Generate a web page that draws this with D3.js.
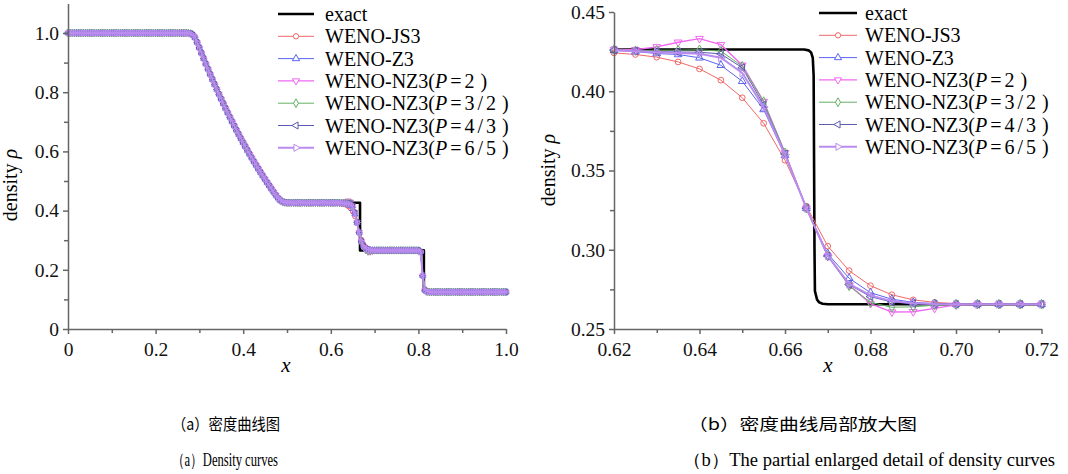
<!DOCTYPE html>
<html><head><meta charset="utf-8">
<script src="https://cdn.jsdelivr.net/npm/d3@7"></script>
<style>body{margin:0;background:#fff}svg{display:block}</style>
</head><body>
<svg id="c" width="1068" height="474"></svg>
<script>
// ---------------- DATA ----------------
const seriesNames = ["WENO-JS3", "WENO-Z3", "WENO-NZ3", "WENO-NZ3", "WENO-NZ3", "WENO-NZ3"];
const seriesP = [null, null, ["2"], ["3", "/", "2"], ["4", "/", "3"], ["6", "/", "5"]];
const seriesColors = ["#f06868", "#5a64f0", "#f068f0", "#64b064", "#5c5cb0", "#bb8cf0"];
const seriesWidths = [1, 1, 1.4, 1, 1, 2];
const seriesSymbols = ["circle", "triUp", "triDown", "diamond", "triLeft", "triRight"];

const leftXTicks = [0, 0.2, 0.4, 0.6, 0.8, 1.0];
const leftXMinor = [0.1, 0.3, 0.5, 0.7, 0.9];
const leftYTicks = [0, 0.2, 0.4, 0.6, 0.8, 1.0];
const leftYMinor = [0.1, 0.3, 0.5, 0.7, 0.9];
const rightXTicks = [0.62, 0.64, 0.66, 0.68, 0.70, 0.72];
const rightXMinor = [0.63, 0.65, 0.67, 0.69, 0.71];
const rightYTicks = [0.25, 0.30, 0.35, 0.40, 0.45];
const rightYMinor = [0.275, 0.325, 0.375, 0.425];

// exact solution (left chart), [x, rho]
const exactLeft = [
  [0, 1], [0.287, 1], [0.29, 0.9884], [0.295, 0.9691], [0.30, 0.9502], [0.305, 0.9316], [0.31, 0.9133],
  [0.315, 0.8952], [0.32, 0.8774], [0.325, 0.8600], [0.33, 0.8427], [0.335, 0.8258], [0.34, 0.8092],
  [0.345, 0.7928], [0.35, 0.7767], [0.355, 0.7608], [0.36, 0.7452], [0.365, 0.7299], [0.37, 0.7148],
  [0.375, 0.7000], [0.38, 0.6855], [0.385, 0.6711], [0.39, 0.6570], [0.395, 0.6431], [0.40, 0.6295],
  [0.405, 0.6161], [0.41, 0.6030], [0.415, 0.5900], [0.42, 0.5773], [0.425, 0.5648], [0.43, 0.5525],
  [0.435, 0.5404], [0.44, 0.5286], [0.445, 0.5170], [0.45, 0.5055], [0.455, 0.4943], [0.46, 0.4832],
  [0.465, 0.4724], [0.47, 0.4618], [0.475, 0.4513], [0.48, 0.4410], [0.485, 0.4310], [0.4873, 0.4263],
  [0.6667, 0.4263], [0.6667, 0.2656], [0.8125, 0.2656], [0.8125, 0.125], [1.0, 0.125]
];
// exact solution (zoomed chart), [x, rho]
const exactZoom = [
  [0.62, 0.4263], [0.6645, 0.4263], [0.6655, 0.4258], [0.6661, 0.4245], [0.6665, 0.4210], [0.6667, 0.4100],
  [0.6669, 0.3000], [0.6670, 0.2740], [0.6675, 0.2685], [0.6680, 0.2668], [0.6688, 0.2659], [0.6700, 0.2656],
  [0.72, 0.2656]
];

// numerical grid (dx = 0.005)
const gridX = d3.range(201).map(i => +(i * 0.005).toFixed(3));
// shared numerical values x = 0 ... 0.615
const numLeftPart = [
  1,1,1,1,1,1,1,1,1,1, 1,1,1,1,1,1,1,1,1,1, 1,1,1,1,1,1,1,1,1,1, 1,1,1,1,1,1,1,1,1,1,
  1,1,1,1,1,1,1,1,1,1, 1,1,1,1,1,
  0.9995, 0.998, 0.993, 0.984, 0.968, 0.950, 0.9316, 0.9133, 0.8952, 0.8774, 0.8600, 0.8427, 0.8258,
  0.8092, 0.7928, 0.7767, 0.7608, 0.7452, 0.7299, 0.7148, 0.7000, 0.6855, 0.6711, 0.6570, 0.6431,
  0.6295, 0.6161, 0.6030, 0.5900, 0.5773, 0.5648, 0.5525, 0.5404, 0.5286, 0.5170, 0.5055, 0.4943,
  0.4832, 0.4724, 0.4618, 0.4515, 0.4418, 0.4340, 0.4292, 0.4272, 0.4265,
  0.4263,0.4263,0.4263,0.4263,0.4263,0.4263,0.4263,0.4263,0.4263,0.4263,0.4263,0.4263,
  0.4263,0.4263,0.4263,0.4263,0.4263,0.4263,0.4263,0.4263,0.4263,0.4263,0.4263
];
// shared numerical values x = 0.725 ... 1.0
const numRightPart = [
  0.2656,0.2656,0.2656,0.2656,0.2656,0.2656,0.2656,0.2656,0.2656,0.2656,0.2656,0.2656,0.2656,0.2656,0.2656,0.2656,
  0.2600, 0.1800, 0.1310, 0.1256,
  0.125,0.125,0.125,0.125,0.125,0.125,0.125,0.125,0.125,0.125,0.125,0.125,0.125,0.125,0.125,0.125,0.125,0.125,
  0.125,0.125,0.125,0.125,0.125,0.125,0.125,0.125,0.125,0.125,0.125,0.125,0.125,0.125,0.125,0.125,0.125,0.125
];
// zoomed region x = 0.62 ... 0.72
const zoomX = [0.620, 0.625, 0.630, 0.635, 0.640, 0.645, 0.650, 0.655, 0.660, 0.665, 0.670,
               0.675, 0.680, 0.685, 0.690, 0.695, 0.700, 0.705, 0.710, 0.715, 0.720];
const rhoJS3  = [0.4242,0.4232,0.4215,0.4185,0.4141,0.4070,0.3959,0.3798,0.3565,0.3275,0.3023,0.2868,0.2773,0.2716,0.2684,0.2668,0.2660,0.2657,0.2656,0.2656,0.2656];
const rhoZ3   = [0.4258,0.4250,0.4238,0.4232,0.4211,0.4164,0.4063,0.3885,0.3595,0.3262,0.2975,0.2820,0.2729,0.2688,0.2668,0.2660,0.2657,0.2656,0.2656,0.2656,0.2656];
const rhoP2   = [0.4263,0.4262,0.4280,0.4309,0.4332,0.4294,0.4164,0.3935,0.3612,0.3262,0.2960,0.2778,0.2660,0.2607,0.2609,0.2630,0.2652,0.2656,0.2656,0.2656,0.2656];
const rhoP32  = [0.4262,0.4256,0.4259,0.4259,0.4262,0.4253,0.4158,0.3935,0.3612,0.3262,0.2960,0.2772,0.2668,0.2637,0.2640,0.2650,0.2655,0.2656,0.2656,0.2656,0.2656];
const rhoP43  = [0.4260,0.4255,0.4250,0.4248,0.4246,0.4236,0.4148,0.3915,0.3605,0.3262,0.2960,0.2780,0.2704,0.2670,0.2660,0.2656,0.2656,0.2656,0.2656,0.2656,0.2656];
const rhoP65  = [0.4259,0.4252,0.4246,0.4242,0.4236,0.4211,0.4116,0.3900,0.3600,0.3262,0.2962,0.2785,0.2712,0.2676,0.2662,0.2657,0.2656,0.2656,0.2656,0.2656,0.2656];
const zoomSeries = [rhoJS3, rhoZ3, rhoP2, rhoP32, rhoP43, rhoP65];

const captionsCN = ["（a）密度曲线图", "（b）密度曲线局部放大图"];
const captionsEN = ["（a）Density curves", "（b）The partial enlarged detail of density curves"];

// ---------------- DRAWING ----------------
const svg = d3.select("#c");
svg.append("rect").attr("width", 1068).attr("height", 474).attr("fill", "#fff");
const SERIF = "'Liberation Serif', 'Times New Roman', serif";
const AX = "#666";

function symbolPath(kind, size) {
  const map = {circle: d3.symbolCircle, triUp: d3.symbolTriangle, triDown: d3.symbolTriangle,
               diamond: d3.symbolDiamond, triLeft: d3.symbolTriangle, triRight: d3.symbolTriangle};
  return d3.symbol(map[kind], size)();
}
const symRot = {circle: 0, triUp: 0, triDown: 180, diamond: 0, triLeft: -90, triRight: 90};

function drawAxes(g, x, y, xt, xm, yt, ym, xfmt, yfmt) {
  const [x0] = x.range();
  const [y0] = y.range();
  const axg = g.append("g");
  axg.append("g").attr("transform", `translate(0,${y0})`)
    .call(d3.axisBottom(x).tickValues(xt).tickFormat(xfmt).tickSize(5).tickSizeOuter(0).tickPadding(8));
  axg.append("g").attr("transform", `translate(0,${y0})`)
    .call(d3.axisBottom(x).tickValues(xm).tickFormat("").tickSize(4).tickSizeOuter(0))
    .select(".domain").remove();
  axg.append("g").attr("transform", `translate(${x0},0)`)
    .call(d3.axisLeft(y).tickValues(yt).tickFormat(yfmt).tickSize(5).tickSizeOuter(0).tickPadding(4));
  axg.append("g").attr("transform", `translate(${x0},0)`)
    .call(d3.axisLeft(y).tickValues(ym).tickFormat("").tickSize(4).tickSizeOuter(0))
    .select(".domain").remove();
  axg.selectAll("g").attr("font-family", null).attr("font-size", null);
  axg.selectAll(".domain, .tick line").attr("stroke", AX).attr("stroke-width", 1.5);
  axg.selectAll(".tick text").style("font-family", SERIF).style("font-size", "19.5px").attr("fill", "#111");
}

function drawChart(opt) {
  const g = svg.append("g");
  const {x, y} = opt;
  const line = d3.line().x(d => x(d[0])).y(d => y(d[1]));
  g.append("path").datum(opt.exact).attr("d", line).attr("fill", "none")
    .attr("stroke", "#000").attr("stroke-width", 2.6).attr("stroke-linejoin", "round");
  opt.series.forEach((vals, k) => {
    const pts = opt.xs.map((xv, i) => [xv, vals[i]]);
    g.append("path").datum(pts).attr("d", line).attr("fill", "none")
      .attr("stroke", seriesColors[k]).attr("stroke-width", seriesWidths[k]);
    const sp = symbolPath(seriesSymbols[k], opt.msize);
    g.append("g").selectAll("path").data(pts).join("path")
      .attr("d", sp)
      .attr("transform", d => `translate(${x(d[0])},${y(d[1])}) rotate(${symRot[seriesSymbols[k]]})`)
      .attr("fill", "none").attr("stroke", seriesColors[k]).attr("stroke-width", 1);
  });
  drawAxes(g, x, y, opt.xt, opt.xm, opt.yt, opt.ym, opt.xfmt, opt.yfmt);
  g.append("text").attr("x", opt.xTitle[0]).attr("y", opt.xTitle[1]).attr("text-anchor", "middle")
    .style("font-family", SERIF).attr("font-style", "italic").attr("font-size", 21).text("x");
  const yt = g.append("text").attr("transform", `translate(${opt.yTitle[0]},${opt.yTitle[1]}) rotate(-90)`)
    .attr("text-anchor", "middle").style("font-family", SERIF).attr("font-size", 20);
  yt.append("tspan").text("density ");
  yt.append("tspan").attr("font-style", "italic").text("ρ");
  const lg = g.append("g").style("font-family", SERIF).attr("font-size", 20);
  const [lx0, lx1, tx, ly0, dy] = opt.legend;
  lg.append("line").attr("x1", lx0).attr("x2", lx1).attr("y1", ly0).attr("y2", ly0)
    .attr("stroke", "#000").attr("stroke-width", 2.6);
  lg.append("text").attr("x", tx).attr("y", ly0 + 7).text("exact");
  seriesNames.forEach((nm, k) => {
    const yy = ly0 + dy * (k + 1);
    lg.append("line").attr("x1", lx0).attr("x2", lx1).attr("y1", yy).attr("y2", yy)
      .attr("stroke", seriesColors[k]).attr("stroke-width", seriesWidths[k]);
    lg.append("path").attr("d", symbolPath(seriesSymbols[k], 22))
      .attr("transform", `translate(${(lx0 + lx1) / 2},${yy}) rotate(${symRot[seriesSymbols[k]]})`)
      .attr("fill", "#fff").attr("stroke", seriesColors[k]).attr("stroke-width", 1);
    const t = lg.append("text").attr("x", tx).attr("y", yy + 7);
    t.append("tspan").text(nm);
    const p = seriesP[k];
    if (p) {
      t.append("tspan").text("(");
      t.append("tspan").attr("font-style", "italic").text("P");
      t.append("tspan").attr("dx", 3).text("=");
      p.forEach((s, j) => t.append("tspan").attr("dx", j === 0 ? 3 : 3).text(s));
      t.append("tspan").attr("dx", 6).text(")");
    }
  });
}

// left chart
const xL = d3.scaleLinear([0, 1], [68, 506]);
const yL = d3.scaleLinear([0, 1.1], [329, 3.4]);
drawChart({
  x: xL, y: yL, exact: exactLeft, xs: gridX,
  series: zoomSeries.map(z => numLeftPart.concat(z, numRightPart)),
  msize: 16,
  xt: leftXTicks, xm: leftXMinor, yt: leftYTicks, ym: leftYMinor,
  xfmt: d => d === 0 ? "0" : d.toFixed(1), yfmt: d => d === 0 ? "0" : d.toFixed(1),
  xTitle: [286, 372], yTitle: [17, 185],
  legend: [278, 314, 325, 14, 22.3]
});
// right chart
const xR = d3.scaleLinear([0.62, 0.72], [614, 1041.5]);
const yR = d3.scaleLinear([0.25, 0.45], [329, 12]);
drawChart({
  x: xR, y: yR, exact: exactZoom, xs: zoomX, series: zoomSeries,
  msize: 26,
  xt: rightXTicks, xm: rightXMinor, yt: rightYTicks, ym: rightYMinor,
  xfmt: d3.format(".2f"), yfmt: d3.format(".2f"),
  xTitle: [828, 372], yTitle: [555, 170],
  legend: [819, 857, 865, 13, 22.3]
});

// captions
const capG = svg.append("g");
capG.append("text").attr("x", 172).attr("y", 430).style("font-family", "'Noto Sans CJK SC'").attr("font-size", 16)
  .attr("textLength", 108).attr("lengthAdjust", "spacingAndGlyphs").text(captionsCN[0]);
capG.append("text").attr("x", 688).attr("y", 430).style("font-family", "'Noto Sans CJK SC'").attr("font-size", 16)
  .attr("textLength", 229).attr("lengthAdjust", "spacingAndGlyphs").text(captionsCN[1]);
capG.append("text").attr("x", 172).attr("y", 466).style("font-family", SERIF).attr("font-size", 18)
  .attr("textLength", 106).attr("lengthAdjust", "spacingAndGlyphs").text(captionsEN[0]);
capG.append("text").attr("x", 683).attr("y", 466).style("font-family", SERIF).attr("font-size", 18)
  .attr("textLength", 372).attr("lengthAdjust", "spacingAndGlyphs").text(captionsEN[1]);
</script>
</body></html>
